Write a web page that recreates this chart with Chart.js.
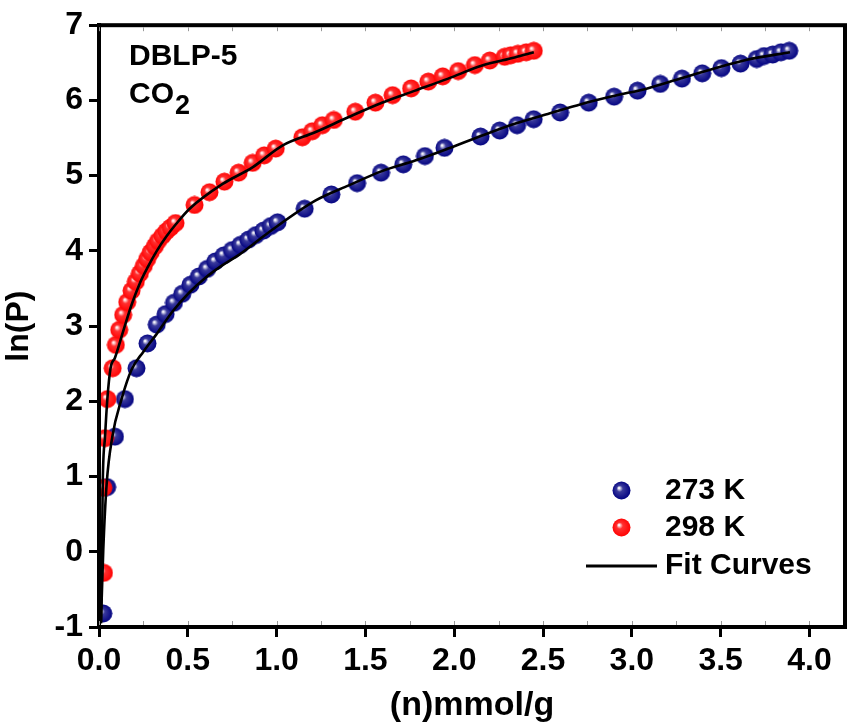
<!DOCTYPE html>
<html>
<head>
<meta charset="utf-8">
<script src="https://cdn.jsdelivr.net/npm/chart.js@4.4.1/dist/chart.umd.min.js"></script>
<style>
  html, body { margin: 0; padding: 0; background: #fff; }
  canvas { display: block; }
</style>
</head>
<body>
<canvas id="isoChart" width="850" height="728"></canvas>
<script>
// CO2 isotherm data for DBLP-5: loading n (mmol/g) vs ln(P)
const n273 = [0.024, 0.046, 0.09, 0.146, 0.211, 0.273, 0.325, 0.375, 0.422, 0.469, 0.515, 0.562, 0.609, 0.655,
  0.702, 0.749, 0.796, 0.842, 0.883, 0.926, 0.967, 1.005, 1.158, 1.308, 1.453, 1.588, 1.713, 1.835, 1.945,
  2.148, 2.256, 2.354, 2.447, 2.596, 2.757, 2.900, 3.032, 3.160, 3.282, 3.396, 3.504, 3.612, 3.703, 3.744,
  3.793, 3.839, 3.886]
const lnP273 = [-0.82, 0.86, 1.53, 2.03, 2.44, 2.77, 3.02, 3.16, 3.31, 3.43, 3.55, 3.66, 3.76, 3.86,
  3.94, 4.01, 4.08, 4.15, 4.21, 4.27, 4.33, 4.38, 4.56, 4.75, 4.90, 5.04, 5.15, 5.26, 5.37,
  5.52, 5.60, 5.67, 5.75, 5.84, 5.97, 6.05, 6.13, 6.22, 6.29, 6.36, 6.43, 6.49, 6.55, 6.59,
  6.61, 6.64, 6.66]

const n298 = [0.028, 0.024, 0.034, 0.047, 0.077, 0.095, 0.114, 0.136, 0.159, 0.183, 0.207, 0.23, 0.252,
  0.271, 0.291, 0.314, 0.332, 0.357, 0.379, 0.403, 0.431, 0.538, 0.622, 0.706, 0.786, 0.865, 0.93, 0.995,
  1.145, 1.20, 1.257, 1.322, 1.443, 1.556, 1.653, 1.757, 1.854, 1.935, 2.022, 2.116, 2.20, 2.284, 2.318,
  2.358, 2.405, 2.448]
const lnP298 = [-0.28, 0.85, 1.51, 2.03, 2.44, 2.75, 2.95, 3.15, 3.32, 3.47, 3.59, 3.70, 3.80,
  3.89, 3.98, 4.06, 4.13, 4.20, 4.26, 4.31, 4.37, 4.61, 4.78, 4.92, 5.04, 5.17, 5.27, 5.36,
  5.51, 5.59, 5.67, 5.74, 5.85, 5.97, 6.07, 6.16, 6.25, 6.32, 6.39, 6.47, 6.53, 6.58, 6.60,
  6.62, 6.64, 6.66]

// virial fit curves
const fitN273 = [0.011, 0.024, 0.043, 0.075, 0.127, 0.183, 0.25, 0.323, 0.416, 0.51, 0.603, 0.696, 0.79,
  0.958, 1.22, 1.406, 1.593, 1.78, 1.966, 2.153, 2.34, 2.527, 2.713, 2.90, 3.087, 3.273, 3.46, 3.647, 3.89]
const fitY273 = [-0.95, 0.02, 0.90, 1.53, 2.03, 2.42, 2.66, 2.89, 3.20, 3.45, 3.65, 3.81, 3.95,
  4.25, 4.67, 4.87, 5.06, 5.20, 5.36, 5.53, 5.69, 5.82, 5.95, 6.06, 6.16, 6.29, 6.42, 6.54, 6.64]

const fitN298 = [0.011, 0.017, 0.021, 0.034, 0.047, 0.065, 0.09, 0.136, 0.183, 0.23, 0.276, 0.323, 0.379,
  0.435, 0.51, 0.696, 0.864, 1.032, 1.22, 1.406, 1.593, 1.78, 1.966, 2.153, 2.34, 2.448]
const fitY298 = [-0.95, 0.02, 0.90, 1.53, 2.03, 2.44, 2.58, 2.93, 3.28, 3.57, 3.79, 3.99, 4.19,
  4.36, 4.56, 4.89, 5.11, 5.40, 5.58, 5.78, 5.97, 6.13, 6.29, 6.46, 6.57, 6.64]

const xTicks = [0, 0.5, 1.0, 1.5, 2.0, 2.5, 3.0, 3.5, 4.0]
const xMinor = [0, 0.25, 0.5, 0.75, 1.0, 1.25, 1.5, 1.75, 2.0, 2.25, 2.5, 2.75, 3.0, 3.25, 3.5, 3.75, 4.0]

const labels = ['273 K', '298 K', 'Fit Curves']

const FONT = '"Liberation Sans", Arial, Helvetica, sans-serif'

const pts = (xs, ys) => xs.map((x, i) => ({ x: x, y: ys[i] }))

// shaded ball marker
function ball(color, dark) {
  const c = document.createElement('canvas')
  c.width = 19
  c.height = 19
  const g = c.getContext('2d')
  const grad = g.createRadialGradient(7, 7, 0.5, 9.5, 9.5, 9.5)
  grad.addColorStop(0, '#ffffff')
  grad.addColorStop(0.3, color)
  grad.addColorStop(1, dark)
  g.fillStyle = grad
  g.beginPath()
  g.arc(9.5, 9.5, 9, 0, Math.PI * 2)
  g.fill()
  return c
}

const blueBall = ball('#3a3a9c', '#000080')
const redBall = ball('#ff3030', '#ff0000')

const frame = {
  id: 'frame',
  afterDraw(chart) {
    const ctx = chart.ctx
    const a = chart.chartArea
    const xs = chart.scales.x
    ctx.save()
    ctx.strokeStyle = '#000'
    ctx.lineWidth = 4
    ctx.strokeRect(a.left, a.top, a.right - a.left, a.bottom - a.top)

    // faint minor ticks along top and bottom
    ctx.strokeStyle = '#9a9a9a'
    ctx.lineWidth = 1
    xMinor.forEach(v => {
      const px = Math.round(xs.getPixelForValue(v)) + 0.5
      ctx.beginPath()
      ctx.moveTo(px, a.top + 2)
      ctx.lineTo(px, a.top + 6)
      ctx.moveTo(px, a.bottom - 2)
      ctx.lineTo(px, a.bottom - 6)
      ctx.stroke()
    })

    // sample name
    ctx.fillStyle = '#000'
    ctx.textBaseline = 'alphabetic'
    ctx.textAlign = 'left'
    ctx.font = 'bold 30px ' + FONT
    ctx.fillText('DBLP-5', 129, 65)
    ctx.fillText('CO', 129, 103)
    const w = ctx.measureText('CO').width
    ctx.font = 'bold 27px ' + FONT
    ctx.fillText('2', 129 + w + 1, 114)

    // legend
    ctx.font = 'bold 30px ' + FONT
    ctx.textBaseline = 'middle'
    ctx.drawImage(blueBall, 612, 481)
    ctx.fillText(labels[0], 665, 491)
    ctx.drawImage(redBall, 612, 518)
    ctx.fillText(labels[1], 665, 528)
    ctx.strokeStyle = '#000'
    ctx.lineWidth = 3
    ctx.beginPath()
    ctx.moveTo(586, 566)
    ctx.lineTo(657, 566)
    ctx.stroke()
    ctx.fillText(labels[2], 665, 566)
    ctx.restore()
  }
}

new Chart(document.getElementById('isoChart'), {
  type: 'scatter',
  data: {
    datasets: [
      {
        label: labels[0],
        data: pts(n273, lnP273),
        pointStyle: blueBall,
        order: 2
      },
      {
        label: labels[1],
        data: pts(n298, lnP298),
        pointStyle: redBall,
        order: 1
      },
      {
        label: labels[2],
        data: pts(fitN273, fitY273),
        showLine: true,
        borderColor: '#000',
        borderWidth: 2.6,
        pointRadius: 0,
        cubicInterpolationMode: 'monotone',
        order: 0
      },
      {
        label: labels[2],
        data: pts(fitN298, fitY298),
        showLine: true,
        borderColor: '#000',
        borderWidth: 2.6,
        pointRadius: 0,
        cubicInterpolationMode: 'monotone',
        order: 0
      }
    ]
  },
  options: {
    responsive: false,
    animation: false,
    layout: { padding: { left: 0, top: 22, right: 3, bottom: 0 } },
    plugins: {
      legend: { display: false },
      tooltip: { enabled: false }
    },
    scales: {
      x: {
        type: 'linear',
        min: 0,
        max: 4.2,
        afterBuildTicks: s => { s.ticks = xTicks.map(v => ({ value: v })) },
        afterFit: s => { s.height = 101 },
        grid: { drawOnChartArea: false, tickLength: 10, tickWidth: 3, color: '#000' },
        border: { display: true, width: 4, color: '#000' },
        ticks: {
          color: '#000',
          padding: 5,
          font: { family: FONT, size: 32, weight: 'bold' },
          callback: v => v.toFixed(1)
        },
        title: {
          display: true,
          text: '(n)mmol/g',
          color: '#000',
          padding: { top: 0, bottom: 2 },
          font: { family: FONT, size: 34, weight: 'bold' }
        }
      },
      y: {
        min: -1,
        max: 7,
        afterFit: s => { s.width = 99 },
        grid: { drawOnChartArea: false, tickLength: 10, tickWidth: 3, color: '#000' },
        border: { display: true, width: 4, color: '#000' },
        ticks: {
          stepSize: 1,
          color: '#000',
          padding: 6,
          font: { family: FONT, size: 32, weight: 'bold' }
        },
        title: {
          display: true,
          text: 'ln(P)',
          color: '#000',
          padding: { top: 0, bottom: 0 },
          font: { family: FONT, size: 32, weight: 'bold' }
        }
      }
    }
  },
  plugins: [frame]
})
</script>
</body>
</html>
